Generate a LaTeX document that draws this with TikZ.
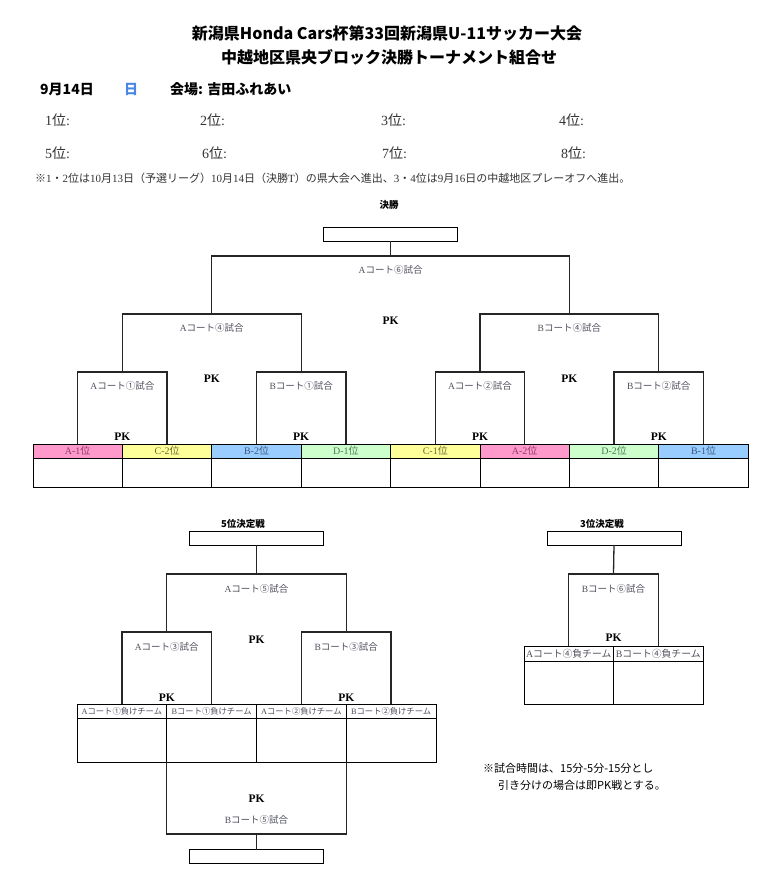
\documentclass[tikz,border=0pt]{standalone}
\usepackage{fontspec}
\setmainfont{Liberation Serif}
\newfontfamily\jp{Noto Sans CJK JP}
\usetikzlibrary{calc}
\definecolor{cpink}{HTML}{FF99CC}
\definecolor{cyel}{HTML}{FFFF99}
\definecolor{cblue}{HTML}{99CCFF}
\definecolor{cgreen}{HTML}{CCFFCC}
\definecolor{tpink}{HTML}{8E3A66}
\definecolor{tyel}{HTML}{6B6B3A}
\definecolor{tblue}{HTML}{3A5A80}
\definecolor{tgreen}{HTML}{4F7A5A}
\definecolor{dblue}{HTML}{4A86E8}
\definecolor{lblgray}{HTML}{50505E}
\newcommand\mtch[2]{#1{\jp コート#2試合}}
\begin{document}
\begin{tikzpicture}[x=1pt,y=-1pt,
  ttl/.style={font=\jp\bfseries\fontsize{16}{18}\selectfont, inner sep=0pt},
  hdr/.style={font=\jp\bfseries\fontsize{14}{16}\selectfont, inner sep=0pt, anchor=west},
  rank/.style={font=\fontsize{14}{16}\selectfont, text=black!80, inner sep=0pt, anchor=west},
  notetxt/.style={font=\fontsize{11}{13}\selectfont, text=black!80, inner sep=0pt, anchor=west},
  sect/.style={font=\jp\bfseries\fontsize{9.5}{11}\selectfont, inner sep=0pt},
  mlbl/.style={font=\fontsize{9.5}{11}\selectfont, text=lblgray, inner sep=0pt},
  pk/.style={font=\bfseries\fontsize{11.5}{13}\selectfont, inner sep=0pt},
  br/.style={draw=black!85, line width=1.3pt},
  cell/.style={draw=black, line width=1pt, minimum height=14pt, inner sep=0pt, outer sep=0pt, font=\fontsize{10}{12}\selectfont},
  wbox/.style={draw=black, line width=1pt, minimum width=134pt, minimum height=14pt, inner sep=0pt, outer sep=0pt}
]
\useasboundingbox (0,0) rectangle (774,881);
\fill[white] (0,0) rectangle (774,881);

% ---------- header ----------
\node[ttl] (title1) at (387,33) {新潟県Honda Cars杯第33回新潟県U-11サッカー大会};
\node[ttl] (title2) at (389,57) {中越地区県央ブロック決勝トーナメント組合せ};
\node[hdr] (date) at (40,89) {9月14日};
\node[hdr, anchor=center, text=dblue] (dow) at (131,89) {日};
\node[hdr] (venue) at (170,89) {会場: 吉田ふれあい};
\node[rank] (r1) at (45,120) {1{\jp 位}:};
\node[rank] (r2) at (200,120) {2{\jp 位}:};
\node[rank] (r3) at (381,120) {3{\jp 位}:};
\node[rank] (r4) at (559,120) {4{\jp 位}:};
\node[rank] (r5) at (45,153) {5{\jp 位}:};
\node[rank] (r6) at (202,153) {6{\jp 位}:};
\node[rank] (r7) at (382,153) {7{\jp 位}:};
\node[rank] (r8) at (561,153) {8{\jp 位}:};
\node[notetxt] (note1) at (35,178) {{\jp ※}1{\jp ・}2{\jp 位は}10{\jp 月}13{\jp 日（予選リーグ）}10{\jp 月}14{\jp 日（決勝}T{\jp ）の県大会へ進出、}3{\jp ・}4{\jp 位は}9{\jp 月}16{\jp 日の中越地区プレーオフへ進出。}};

% ---------- final bracket ----------
\node[sect] (kessho) at (389,205) {決勝};
\node[wbox] (fin) at (390.6,234) {};

\foreach \i/\lab/\fc/\tc in {1/A-1/cpink/tpink, 2/C-2/cyel/tyel, 3/B-2/cblue/tblue, 4/D-1/cgreen/tgreen,
                             5/C-1/cyel/tyel, 6/A-2/cpink/tpink, 7/D-2/cgreen/tgreen, 8/B-1/cblue/tblue}{
  \node[cell, minimum width=89.4pt, fill=\fc, text=\tc] (t\i) at ({33+89.4*(\i-0.5)},451) {\lab{\jp 位}};
  \node[cell, minimum width=89.4pt, minimum height=29pt] (b\i) at ({33+89.4*(\i-0.5)},472.5) {};
}

% level 3
\foreach \j/\lab in {1/\mtch{A}{①}, 2/\mtch{B}{①}, 3/\mtch{A}{②}, 4/\mtch{B}{②}}{
  \pgfmathtruncatemacro\a{2*\j-1}
  \pgfmathtruncatemacro\b{2*\j}
  \draw[br] (t\a.north) -- ++(0,-72) -| (t\b.north);
  \coordinate (m3\j) at ({33+89.4*(2*\j-1)},372);
  \node[mlbl] (lm3\j) at ($(m3\j)+(0,14)$) {\lab};
  \node[pk] (pk3\j) at ($(m3\j)+(0,65)$) {PK};
}
% level 2
\foreach \k/\lab in {1/\mtch{A}{④}, 2/\mtch{B}{④}}{
  \pgfmathtruncatemacro\a{2*\k-1}
  \pgfmathtruncatemacro\b{2*\k}
  \draw[br] (m3\a) -- ++(0,-58) -| (m3\b);
  \coordinate (m2\k) at ({33+89.4*(4*\k-2)},314);
  \node[mlbl] (lm2\k) at ($(m2\k)+(0,14)$) {\lab};
  \node[pk] (pk2\k) at ($(m2\k)+(0,65)$) {PK};
}
% level 1
\draw[br] (m21) -- ++(0,-58) -| (m22);
\coordinate (m1) at (390.6,256);
\draw[br] (m1) -- (fin.south);
\node[mlbl] (lm1) at ($(m1)+(0,14)$) {\mtch{A}{⑥}};
\node[pk] (pk1) at ($(m1)+(0,65)$) {PK};

% ---------- 5th place ----------
\node[sect] (fifth) at (243,524) {5{\jp 位決定戦}};
\node[wbox] (box5) at (256.5,538) {};
\foreach \i/\lab in {1/A{\jp コート①負けチーム}, 2/B{\jp コート①負けチーム}, 3/A{\jp コート②負けチーム}, 4/B{\jp コート②負けチーム}}{
  \node[cell, minimum width=89.75pt, font=\fontsize{8.3}{10}\selectfont, text=lblgray] (fh\i) at ({77+89.75*(\i-0.5)},711) {\lab};
  \node[cell, minimum width=89.75pt, minimum height=44pt] (fb\i) at ({77+89.75*(\i-0.5)},740) {};
}
\draw[br] (fh1.north) -- ++(0,-72) -| (fh2.north);
\draw[br] (fh3.north) -- ++(0,-72) -| (fh4.north);
\coordinate (f21) at (166.75,632);
\coordinate (f22) at (346.25,632);
\draw[br] (f21) -- ++(0,-58) -| (f22);
\coordinate (f1) at (256.5,574);
\draw[br] (f1) -- (box5.south);
\node[mlbl] (lf1) at ($(f1)+(0,15)$) {\mtch{A}{⑤}};
\node[pk] (pkf1) at ($(f1)+(0,66)$) {PK};
\node[mlbl] (lf21) at ($(f21)+(0,15)$) {\mtch{A}{③}};
\node[mlbl] (lf22) at ($(f22)+(0,15)$) {\mtch{B}{③}};
\node[pk] (pkf21) at ($(f21)+(0,66)$) {PK};
\node[pk] (pkf22) at ($(f22)+(0,66)$) {PK};
\draw[br] (fb1.south east) -- ++(0,72) -| (fb3.south east);
\coordinate (f5b) at (256.5,834);
\node[wbox] (bot5) at (256.5,856.5) {};
\draw[br] (f5b) -- (bot5.north);
\node[pk] (pkf5) at (256.5,799) {PK};
\node[mlbl] (lf5) at (256.5,820) {\mtch{B}{⑤}};

% ---------- 3rd place ----------
\node[sect] (third) at (602,524) {3{\jp 位決定戦}};
\node[wbox] (box3) at (614,538) {};
\foreach \i/\lab in {1/A{\jp コート④負チーム}, 2/B{\jp コート④負チーム}}{
  \node[cell, minimum width=89.5pt, minimum height=15pt, font=\fontsize{9.8}{11}\selectfont, text=lblgray] (th\i) at ({524+89.5*(\i-0.5)},653.5) {\lab};
  \node[cell, minimum width=89.5pt, minimum height=43pt] (tb\i) at ({524+89.5*(\i-0.5)},682.5) {};
}
\draw[br] (th1.north) -- ++(0,-72) -| (th2.north);
\coordinate (t3) at (613.5,574);
\draw[br] (t3) -- (box3.south);
\node[mlbl] (lt3) at ($(t3)+(0,15)$) {\mtch{B}{⑥}};
\node[pk] (pkt3) at ($(t3)+(0,64)$) {PK};

% ---------- bottom note ----------
\node[font=\jp\fontsize{11}{13}\selectfont, inner sep=0pt, anchor=west] (note2) at (483,768) {※試合時間は、15分-5分-15分とし};
\node[font=\jp\fontsize{11}{13}\selectfont, inner sep=0pt, anchor=west] (note3) at (498,785) {引き分けの場合は即PK戦とする。};
\end{tikzpicture}
\end{document}
